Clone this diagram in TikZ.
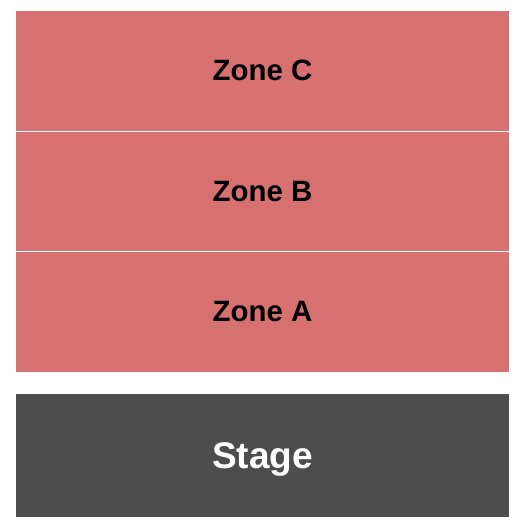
\documentclass[tikz,border=0pt]{standalone}
\usepackage{fontspec}
\setmainfont{Liberation Sans}
\definecolor{zonered}{RGB}{215,112,112}
\definecolor{stagegray}{RGB}{77,77,77}
\tikzset{
	zone/.style={fill=zonered,draw=none,inner sep=0pt,minimum width=493pt,minimum height=119.5pt,font=\fontsize{29.4}{29.4}\selectfont\bfseries,text=black},
	stagebox/.style={fill=stagegray,draw=none,inner sep=0pt,minimum width=493pt,minimum height=122.5pt,font=\fontsize{37}{37}\selectfont\bfseries,text=white,text depth=0pt}
}
\begin{document}
\begin{tikzpicture}[x=1pt,y=-1pt]
		\useasboundingbox (0,0) rectangle (525,525);
		% Soner
		\node[zone] (zoneC) at (262.5,70.75) {Zone C};
		\node[zone] (zoneB) at (262.5,191.25) {Zone B};
		\node[zone] (zoneA) at (262.5,311.75) {Zone A};
		% Scene
		\node[stagebox] (stage) at (262.5,455.5) {Stage};
	\end{tikzpicture}
\end{document}
